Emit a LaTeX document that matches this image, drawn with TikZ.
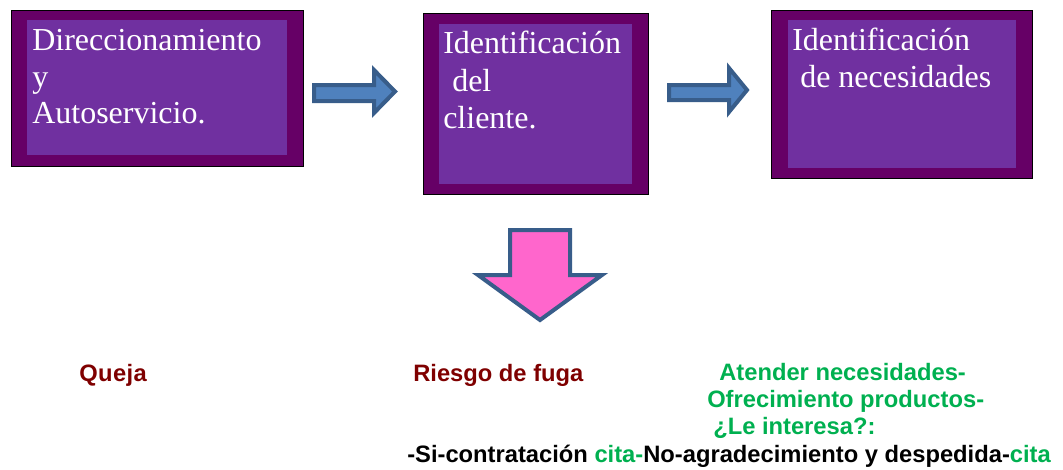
\documentclass[tikz,border=0pt]{standalone}
\usepackage{fontspec}
\setmainfont{Liberation Serif}
\newfontfamily\arialfont{Liberation Sans}
\definecolor{outerpurple}{HTML}{660066}
\definecolor{innerpurple}{HTML}{7030A0}
\definecolor{arrowblue}{HTML}{4F81BD}
\definecolor{arrowedge}{HTML}{385D8A}
\definecolor{arrowpink}{HTML}{FF66CC}
\definecolor{darkred}{HTML}{7F0000}
\definecolor{textgreen}{HTML}{00B050}
\tikzset{
  outerbox/.style={fill=outerpurple, draw=black, line width=0.6pt},
  innerbox/.style={fill=innerpurple},
  boxtext/.style={anchor=base west, inner sep=0pt, text=white, font=\fontsize{24}{28}\selectfont},
  blockarrow/.style={fill=arrowblue, draw=arrowedge, line width=3pt, line join=miter},
  pinkarrow/.style={fill=arrowpink, draw=arrowedge, line width=3pt, line join=miter},
  bottomtext/.style={anchor=base west, inner sep=0pt, font=\arialfont\bfseries\fontsize{17.8}{21}\selectfont}
}
\begin{document}
\begin{tikzpicture}[x=0.75pt,y=-0.75pt]
\useasboundingbox (0,0) rectangle (1063,469);
% boxes
\draw[outerbox] (11,10) rectangle (303,166);
\fill[innerbox] (27,20) rectangle (287,155);
\draw[outerbox] (423,13) rectangle (648,194);
\fill[innerbox] (439,24) rectangle (632,184);
\draw[outerbox] (771,10) rectangle (1032,178);
\fill[innerbox] (788,20) rectangle (1016,168);
% box texts
\node[boxtext] (t1a) at (32,50) {Direccionamiento};
\node[boxtext] (t1b) at (32,87) {y};
\node[boxtext] (t1c) at (32,123) {Autoservicio.};
\node[boxtext] (t2a) at (443,53) {Identificación};
\node[boxtext] (t2b) at (452,91) {del};
\node[boxtext] (t2c) at (443,128) {cliente.};
\node[boxtext] (t3a) at (792,50) {Identificación};
\node[boxtext] (t3b) at (800,87) {de necesidades};
% arrows
\draw[blockarrow] (314,85) -- (374,85) -- (374,70) -- (395,91.5) -- (374,113) -- (374,101) -- (314,101) -- cycle;
\draw[blockarrow] (669,85) -- (729,85) -- (729,68) -- (747,90) -- (729,112) -- (729,100) -- (669,100) -- cycle;
\draw[pinkarrow] (510,230) -- (570,230) -- (570,275) -- (602,275) -- (540,320) -- (478,275) -- (510,275) -- cycle;
% bottom texts
\node[bottomtext, text=darkred] (queja) at (79,381) {Q\kern0.3pt u\kern0.3pt e\kern0.3pt j\kern0.3pt a};
\node[bottomtext, text=darkred] (riesgo) at (413,381) {Riesgo de fuga};
\node[bottomtext, text=textgreen] (g1) at (719,380) {Atender necesidades-};
\node[bottomtext, text=textgreen] (g2) at (707,407) {Ofrecimiento productos-};
\node[bottomtext, text=textgreen] (g3) at (713,434) {¿Le interesa?:};
\node[bottomtext] (g4) at (407,462) {-Si-contratación \textcolor{textgreen}{cita-}No-agradecimiento y despedida-\textcolor{textgreen}{cita}};
\end{tikzpicture}
\end{document}
